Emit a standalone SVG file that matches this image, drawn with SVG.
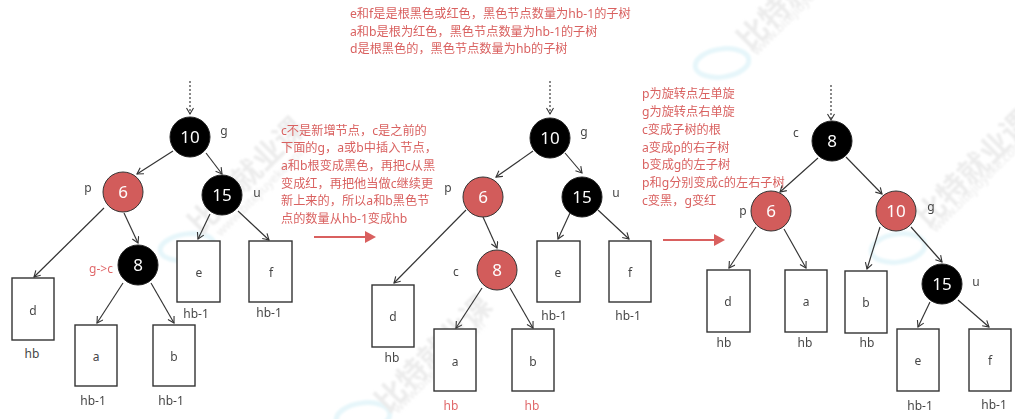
<svg xmlns="http://www.w3.org/2000/svg" width="1015" height="419" viewBox="0 0 1015 419">
<style>
text{font-family:"Noto Sans","Noto Sans CJK SC","Liberation Sans",sans-serif;opacity:.99}
.lb{font-size:12px;fill:#444;text-anchor:middle}
.rd{font-size:12.2px;fill:#d9605f}
.rc{font-size:12px;fill:#e0686a;text-anchor:middle}
.box{fill:#fff;stroke:#333;stroke-width:1.4}
.k{fill:#000;stroke:#222;stroke-width:1}
.r{fill:#d25c5b;stroke:#333;stroke-width:1}
.num{font-size:17px;fill:#fff;text-anchor:middle}
.c line{stroke:#333;stroke-width:1.15;marker-end:url(#a)}
.c line.dot{stroke-dasharray:2 2}
.wm{font-family:"Noto Sans CJK SC",sans-serif;font-weight:700;font-size:30px;fill:#ececec}
.wu{font-size:12.5px;fill:#eaeaea}
.el{fill:none;stroke:#e6f6fa;stroke-width:5}
</style>
<defs>
<marker id="a" markerWidth="9" markerHeight="9" refX="7" refY="4" orient="auto" markerUnits="userSpaceOnUse"><path d="M1 0.5L7 4L1 7.5" fill="none" stroke="#333" stroke-width="1.1"/></marker>
<filter id="soft" x="-5%" y="-5%" width="110%" height="110%"><feGaussianBlur stdDeviation="0.8"/></filter>
</defs>
<rect width="1015" height="419" fill="#fff"/>
<g id="watermark" filter="url(#soft)">
<ellipse class="el" cx="187" cy="247" rx="27" ry="13" transform="rotate(-8 187 247)"/>
<ellipse class="el" cx="722" cy="63" rx="27" ry="14" transform="rotate(-8 722 63)"/>
<ellipse class="el" cx="898" cy="248" rx="27" ry="14" transform="rotate(-8 898 248)"/>
<ellipse class="el" cx="363" cy="417" rx="27" ry="14" transform="rotate(-8 363 417)"/>
<text class="wm" transform="translate(201 236) rotate(-45)">比特就业课</text>
<text class="wm" transform="translate(388 414) rotate(-45)">比特就业课</text>
<text class="wm" transform="translate(928 229) rotate(-45)">比特就业课</text>
<text class="wm" transform="translate(750 52) rotate(-45)">比特就业课</text>
<text class="wu" transform="translate(221 237) rotate(-45)">www.bitejiuyeke.com</text>
<text class="wu" transform="translate(398 414) rotate(-45)">www.bitejiuyeke.com</text>
<text class="wu" transform="translate(936 233) rotate(-45)">www.bitejiuyeke.com</text>
<text class="wu" transform="translate(757 56) rotate(-45)">www.bitejiuyeke.com</text>
</g>
<g id="notes">
<text class="rd" x="350" y="18">e和f是是根黑色或红色，黑色节点数量为hb-1的子树</text>
<text class="rd" x="350" y="36">a和b是根为红色，黑色节点数量为hb-1的子树</text>
<text class="rd" x="350" y="53">d是根黑色的，黑色节点数量为hb的子树</text>
<text class="rd" x="281" y="135">c不是新增节点，c是之前的</text>
<text class="rd" x="281" y="152">下面的g，a或b中插入节点，</text>
<text class="rd" x="281" y="170">a和b根变成黑色，再把c从黑</text>
<text class="rd" x="281" y="188">变成红，再把他当做c继续更</text>
<text class="rd" x="281" y="205">新上来的，所以a和b黑色节</text>
<text class="rd" x="281" y="223">点的数量从hb-1变成hb</text>
<text class="rd" x="642" y="98">p为旋转点左单旋</text>
<text class="rd" x="642" y="116">g为旋转点右单旋</text>
<text class="rd" x="642" y="134">c变成子树的根</text>
<text class="rd" x="642" y="152">a变成p的右子树</text>
<text class="rd" x="642" y="169">b变成g的左子树</text>
<text class="rd" x="642" y="187">p和g分别变成c的左右子树</text>
<text class="rd" x="642" y="205">c变黑，g变红</text>
</g>
<g id="connectors" class="c">
<line class="dot" x1="190" y1="81" x2="190" y2="114"/>
<line x1="173" y1="151" x2="137" y2="174"/>
<line x1="206" y1="153" x2="222" y2="174"/>
<line x1="104" y1="208" x2="34" y2="277"/>
<line x1="124" y1="213" x2="138" y2="243"/>
<line x1="210" y1="214" x2="198" y2="239"/>
<line x1="238" y1="211" x2="269" y2="240"/>
<line x1="123" y1="283" x2="97" y2="323"/>
<line x1="151" y1="283" x2="174" y2="323"/>
<line class="dot" x1="550" y1="81" x2="550" y2="114"/>
<line x1="533" y1="151" x2="496" y2="177"/>
<line x1="565" y1="153" x2="582" y2="173"/>
<line x1="466" y1="210" x2="394" y2="283"/>
<line x1="483" y1="217" x2="497" y2="248"/>
<line x1="570" y1="213" x2="558" y2="239"/>
<line x1="598" y1="210" x2="629" y2="239"/>
<line x1="482" y1="288" x2="456" y2="328"/>
<line x1="510" y1="288" x2="533" y2="328"/>
<line class="dot" x1="831" y1="85" x2="831" y2="120"/>
<line x1="818" y1="158" x2="780" y2="192"/>
<line x1="846" y1="157" x2="882" y2="194"/>
<line x1="756" y1="227" x2="729" y2="268"/>
<line x1="784" y1="229" x2="806" y2="268"/>
<line x1="880" y1="227" x2="867" y2="269"/>
<line x1="911" y1="227" x2="942" y2="262"/>
<line x1="930" y1="302" x2="918" y2="327"/>
<line x1="958" y1="300" x2="989" y2="327"/>
</g>
<g id="step-arrows">
<path d="M314 237H366" stroke="#d9605f" stroke-width="2" fill="none"/><path d="M365 231L376 237L365 243Z" fill="#d9605f"/>
<path d="M663 240H715" stroke="#d9605f" stroke-width="2" fill="none"/><path d="M714 234L725 240L714 246Z" fill="#d9605f"/>
</g>
<g id="t1-g"><circle class="k" cx="190" cy="137" r="20"/><text class="num" x="190" y="143">10</text><text class="lb" x="224" y="135">g</text></g>
<g id="t1-p"><circle class="r" cx="123" cy="192" r="20"/><text class="num" x="123" y="198">6</text><text class="lb" x="88" y="192">p</text></g>
<g id="t1-u"><circle class="k" cx="222" cy="195" r="20"/><text class="num" x="222" y="201">15</text><text class="lb" x="257" y="197">u</text></g>
<g id="t1-c"><circle class="k" cx="138" cy="265" r="20"/><text class="num" x="138" y="271">8</text><text class="rc" x="101" y="273">g-&gt;c</text></g>
<g id="t1-d"><rect class="box" x="12" y="278" width="42" height="62"/><text class="lb" x="33" y="315">d</text><text class="lb" x="32" y="358">hb</text></g>
<g id="t1-a"><rect class="box" x="75" y="325" width="42" height="61"/><text class="lb" x="96" y="361">a</text><text class="lb" x="93" y="405">hb-1</text></g>
<g id="t1-b"><rect class="box" x="153" y="325" width="42" height="61"/><text class="lb" x="174" y="361">b</text><text class="lb" x="171" y="405">hb-1</text></g>
<g id="t1-e"><rect class="box" x="177" y="241" width="43" height="61"/><text class="lb" x="199" y="277">e</text><text class="lb" x="196" y="318">hb-1</text></g>
<g id="t1-f"><rect class="box" x="249" y="241" width="43" height="61"/><text class="lb" x="271" y="277">f</text><text class="lb" x="269" y="317">hb-1</text></g>
<g id="t2-g"><circle class="k" cx="550" cy="138" r="20"/><text class="num" x="550" y="144">10</text><text class="lb" x="584" y="136">g</text></g>
<g id="t2-p"><circle class="r" cx="483" cy="197" r="20"/><text class="num" x="483" y="203">6</text><text class="lb" x="448" y="192">p</text></g>
<g id="t2-u"><circle class="k" cx="582" cy="197" r="20"/><text class="num" x="582" y="203">15</text><text class="lb" x="616" y="197">u</text></g>
<g id="t2-c"><circle class="r" cx="497" cy="270" r="20"/><text class="num" x="497" y="276">8</text><text class="lb" x="456" y="276">c</text></g>
<g id="t2-d"><rect class="box" x="372" y="285" width="42" height="62"/><text class="lb" x="393" y="321">d</text><text class="lb" x="392" y="362">hb</text></g>
<g id="t2-a"><rect class="box" x="434" y="329" width="42" height="62"/><text class="lb" x="455" y="366">a</text><text class="rc" x="451" y="410">hb</text></g>
<g id="t2-b"><rect class="box" x="512" y="329" width="42" height="62"/><text class="lb" x="533" y="366">b</text><text class="rc" x="532" y="410">hb</text></g>
<g id="t2-e"><rect class="box" x="537" y="241" width="43" height="61"/><text class="lb" x="558" y="277">e</text><text class="lb" x="554" y="320">hb-1</text></g>
<g id="t2-f"><rect class="box" x="609" y="241" width="42" height="61"/><text class="lb" x="630" y="277">f</text><text class="lb" x="628" y="320">hb-1</text></g>
<g id="t3-c"><circle class="k" cx="832" cy="141" r="20"/><text class="num" x="832" y="147">8</text><text class="lb" x="796" y="137">c</text></g>
<g id="t3-p"><circle class="r" cx="771" cy="211" r="20"/><text class="num" x="771" y="217">6</text><text class="lb" x="743" y="215">p</text></g>
<g id="t3-g"><circle class="r" cx="896" cy="211" r="20"/><text class="num" x="896" y="217">10</text><text class="lb" x="931" y="211">g</text></g>
<g id="t3-u"><circle class="k" cx="942" cy="284" r="20"/><text class="num" x="942" y="290">15</text><text class="lb" x="976" y="286">u</text></g>
<g id="t3-d"><rect class="box" x="707" y="270" width="43" height="62"/><text class="lb" x="728" y="306">d</text><text class="lb" x="724" y="347">hb</text></g>
<g id="t3-a"><rect class="box" x="785" y="270" width="42" height="62"/><text class="lb" x="806" y="306">a</text><text class="lb" x="805" y="347">hb</text></g>
<g id="t3-b"><rect class="box" x="845" y="271" width="42" height="62"/><text class="lb" x="866" y="307">b</text><text class="lb" x="867" y="347">hb</text></g>
<g id="t3-e"><rect class="box" x="897" y="329" width="42" height="62"/><text class="lb" x="918" y="365">e</text><text class="lb" x="920" y="410">hb-1</text></g>
<g id="t3-f"><rect class="box" x="969" y="329" width="42" height="62"/><text class="lb" x="990" y="365">f</text><text class="lb" x="994" y="409">hb-1</text></g>
</svg>
